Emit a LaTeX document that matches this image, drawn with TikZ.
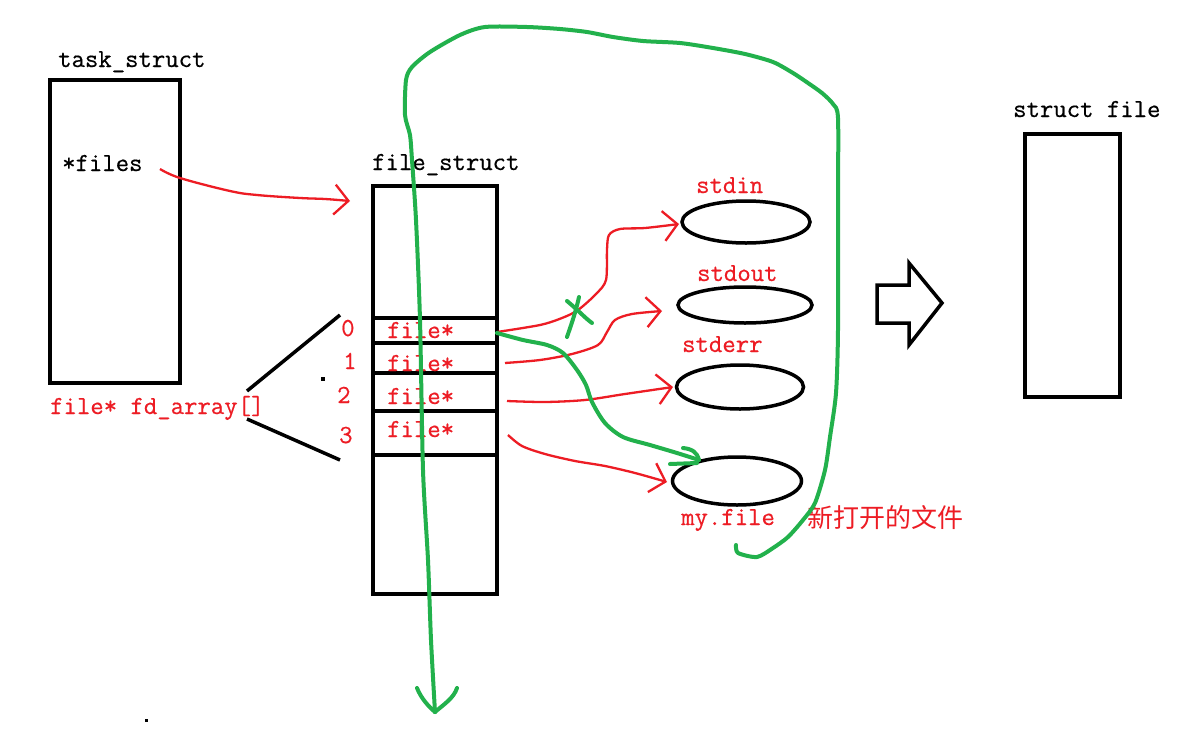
\documentclass[tikz,border=0pt]{standalone}
\usepackage{fontspec}
\newfontfamily\cjk{Noto Sans CJK SC}
\newfontfamily\mytt[FakeBold=0.5]{Latin Modern Mono}
\usetikzlibrary{arrows.meta,shapes.geometric}
\definecolor{pred}{RGB}{237,28,36}
\definecolor{pgreen}{RGB}{34,177,76}
\tikzset{
  box/.style={draw, line width=3.5pt, inner sep=0pt},
  oval/.style={draw, ellipse, line width=3.5pt, inner sep=0pt},
  lbl/.style={inner sep=0pt, anchor=base west, font=\fontsize{26}{26}\selectfont\mytt},
  rlbl/.style={lbl, text=pred},
  rowline/.style={line width=3.5pt},
  redarrow/.style={draw=pred, line width=2.3pt, line join=round, -{Straight Barb[length=14pt,width=30pt]}},
  gline/.style={draw=pgreen, line width=4pt, line cap=round, line join=round},
}
\begin{document}
\begin{tikzpicture}[x=1pt,y=-1pt]
\useasboundingbox[fill=white] (0,0) rectangle (1187,734);

% boxes
\node[box, minimum width=130pt, minimum height=303pt] (task) at (115,231.5) {};
\node[box, minimum width=124pt, minimum height=408pt] (fs) at (435,390) {};
\node[box, minimum width=95pt, minimum height=263pt] (sf) at (1072.5,265.5) {};

% file_struct rows
\draw[rowline] (373,318) -- (497,318);
\draw[rowline] (373,343) -- (497,343);
\draw[rowline] (373,455) -- (497,455);
\draw[line width=4.5pt] (373,373) rectangle (497,411);

% labels
\node[lbl] (tasklbl) at (58,67) {task\_struct};
\node[lbl] (files) at (62,171) {*files};
\node[rlbl] (fdarr) at (50,414) {file* fd\_array[]};
\node[lbl] (fslbl) at (372,170) {file\_struct};
\node[lbl] (sflbl) at (1013,117) {struct file};

\node[rlbl] (f0) at (387,338) {file*};
\node[rlbl] (f1) at (387,371) {file*};
\node[rlbl] (f2) at (387,404) {file*};
\node[rlbl] (f3) at (387,437) {file*};

\node[rlbl] (n0) at (341,336) {0};
\node[rlbl] (n1) at (343,369) {1};
\node[rlbl] (n2) at (337,403) {2};
\node[rlbl] (n3) at (339,443) {3};

% bracket lines and dots
\draw[line width=3.5pt] (247,391) -- (340,315);
\draw[line width=3.5pt] (247,419) -- (340,460);
\fill (321,377) rectangle (325,381);
\fill (145,719) rectangle (148,722);

% ellipses
\node[oval, minimum width=128pt, minimum height=42pt] (stdin) at (746,222) {};
\node[oval, minimum width=134pt, minimum height=36pt] (stdout) at (745,305) {};
\node[oval, minimum width=127pt, minimum height=44pt] (stderr) at (740,387) {};
\node[oval, minimum width=129pt, minimum height=48pt] (myfile) at (737,481) {};

\node[rlbl] (stdinlbl) at (696,193) {stdin};
\node[rlbl] (stdoutlbl) at (697,281) {stdout};
\node[rlbl] (stderrlbl) at (682,352) {stderr};
\node[rlbl] (myfilelbl) at (681,525) {my.file};
\node[inner sep=0pt, anchor=west, text=pred, font=\fontsize{26}{26}\selectfont\cjk] (newlbl) at (807,518) {新打开的文件};

% hollow arrow
\draw[line width=3.5pt, line join=miter] (877,285) -- (909,285) -- (909,263) -- (942,303) -- (909,345) -- (909,323) -- (877,323) -- cycle;

% red arrows
\coordinate (t0) at (160,169);
\coordinate (t1) at (350,201);
\draw[redarrow] plot[smooth, tension=0.6] coordinates {(t0) (180,178) (230,191) (257,195) (300,198) (325,199) (t1)};

\coordinate (s0) at (497,332);
\coordinate (s1) at (505,363);
\coordinate (s2) at (507,401);
\coordinate (s3) at (508,435);
\coordinate (e0) at (679,224);
\coordinate (e1) at (662,311);
\coordinate (e2) at (673,387);
\coordinate (e3) at (667,482);
\draw[redarrow] plot[smooth, tension=0.5] coordinates {(s0) (540,325) (562,318) (578,310) (596,294) (606,280) (607,250) (609,235) (620,229) (645,228) (e0)};
\draw[redarrow] plot[smooth, tension=0.5] coordinates {(s1) (540,360) (572,354) (598,345) (607,332) (615,320) (632,314) (e1)};
\draw[redarrow] plot[smooth, tension=0.5] coordinates {(s2) (545,402) (585,400) (625,394) (e2)};
\draw[redarrow] plot[smooth, tension=0.5] coordinates {(s3) (522,446) (545,454) (575,461) (605,466) (635,473) (e3)};

% green X over first red arrow
\draw[gline] (567,301) .. controls (578,310) and (585,318) .. (592,323);
\draw[gline] (579,297) .. controls (575,315) and (570,328) .. (567,337);

% green arrow to my.file
\coordinate (g0) at (497,333);
\coordinate (g1) at (699,460);
\draw[gline] plot[smooth, tension=0.5] coordinates {(g0) (523,340) (547,345) (563,353) (577,370) (586,385) (592,402) (605,423) (623,437) (650,445) (677,453) (g1)};
\draw[gline] (683,448) .. controls (692,449) and (697,452) .. (g1);
\draw[gline] (670,464) -- (697,463);

% big green loop
\coordinate (L0) at (736,545);
\coordinate (L1) at (435,712);
\draw[gline] plot[smooth, tension=0.45] coordinates {(L0) (738,553) (757,557) (773,548) (788,537) (803,520) (815,503) (825,470) (830,437) (836,393) (838,330) (838,200) (838,118) (833,104) (822,93) (808,83) (793,73) (773,62) (745,54) (713,48) (680,43) (643,41) (613,37) (587,32) (560,29) (527,27) (485,27) (460,35) (430,52) (412,67) (406,80) (405,115) (410,135) (412,160) (416,220) (420,320) (423,470) (428,560) (431,640) (L1)};
\draw[gline] (417,688) .. controls (421,698) and (428,706) .. (L1);
\draw[gline] (457,688) .. controls (454,698) and (443,705) .. (L1);
\end{tikzpicture}
\end{document}
